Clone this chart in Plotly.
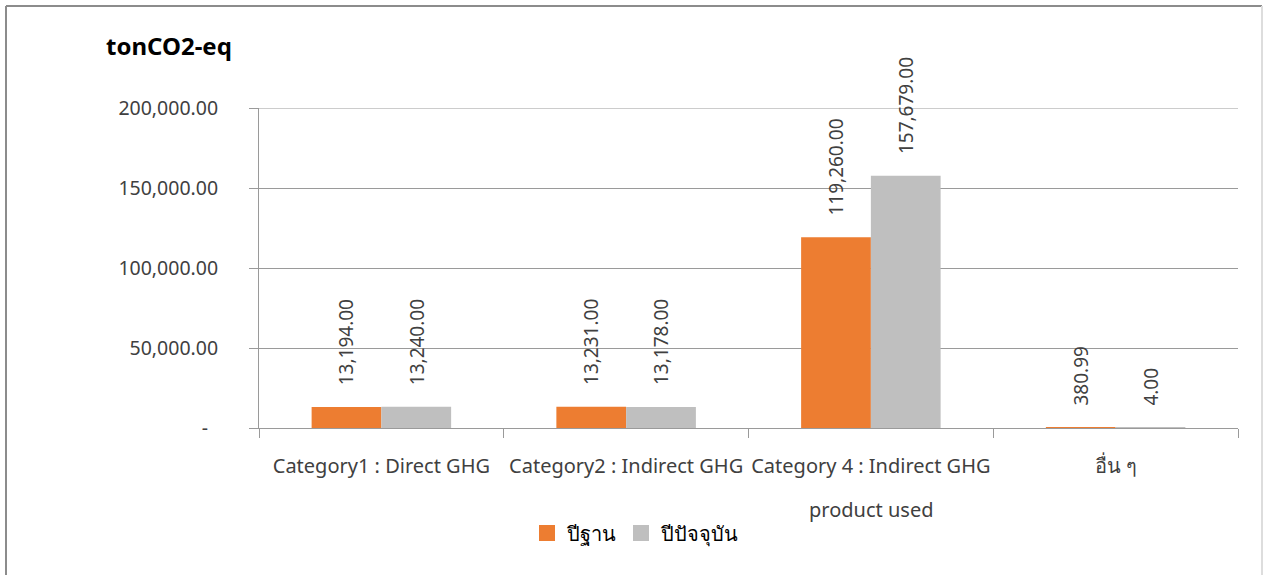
import plotly.graph_objects as go

categories = ["Category1 : Direct GHG", "Category2 : Indirect GHG",
              "Category 4 : Indirect GHG\nproduct used", "อื่น ๆ"]
series_names = ["ปีฐาน", "ปีปัจจุบัน"]
base_year = [13194.00, 13231.00, 119260.00, 380.99]
current_year = [13240.00, 13178.00, 157679.00, 4.00]
y_tickvals = [0, 50000, 100000, 150000, 200000]
y_ticktext = ["-\u00a0\u00a0", "50,000.00", "100,000.00", "150,000.00", "200,000.00"]
colors = ["#ED7D31", "#BFBFBF"]

FONT = "Noto Sans, Lato, sans-serif"
TXT = "#404040"
GRID = "#9a9a9a"

first_lines = [c.split("\n")[0] for c in categories]

fig = go.Figure()
for name, vals, col in zip(series_names, [base_year, current_year], colors):
    fig.add_trace(go.Bar(x=categories, y=vals, name=name, marker_color=col,
                         marker_line_width=0, showlegend=False))
    # legend proxy
    fig.add_trace(go.Scatter(x=[None], y=[None], mode="markers", name=name,
                             marker=dict(symbol="square", size=17, color=col)))

# rotated value labels
for vals, shift in [(base_year, -35), (current_year, 35)]:
    for c, v in zip(categories, vals):
        fig.add_annotation(x=c, y=v, xref="x", yref="y", text=f"{v:,.2f}",
                           textangle=-90, showarrow=False, xshift=shift,
                           yanchor="bottom", xanchor="center", yshift=20,
                           font=dict(family=FONT, size=19, color=TXT))

# second lines of wrapped category labels
for c in categories:
    parts = c.split("\n")
    if len(parts) > 1:
        fig.add_annotation(x=c, xref="x", y=(428 - 509) / 320, yref="paper",
                           text=parts[1], showarrow=False, yanchor="middle",
                           font=dict(family=FONT, size=20, color=TXT))

fig.add_annotation(text="<b>tonCO2-eq</b>", xref="paper", yref="paper",
                   x=(104 - 259) / 979, y=(428 - 45) / 320, xanchor="left", yanchor="middle",
                   showarrow=False, font=dict(family=FONT, size=24, color="#000000"))

# top gridline at axis maximum
fig.add_shape(type="line", xref="paper", yref="y", x0=0, x1=1,
              y0=y_tickvals[-1], y1=y_tickvals[-1], line=dict(color=GRID, width=1))

# outer border
fig.add_shape(type="line", xref="paper", yref="paper",
              x0=(6 - 259) / 979, x1=(1262 - 259) / 979, y0=(428 - 6) / 320, y1=(428 - 6) / 320,
              line=dict(color="#8c8c8c", width=2))
fig.add_shape(type="line", xref="paper", yref="paper",
              x0=(6 - 259) / 979, x1=(6 - 259) / 979, y0=(428 - 6) / 320, y1=(428 - 580) / 320,
              line=dict(color="#8c8c8c", width=2))
fig.add_shape(type="line", xref="paper", yref="paper",
              x0=(1262 - 259) / 979, x1=(1262 - 259) / 979, y0=(428 - 6) / 320, y1=(428 - 580) / 320,
              line=dict(color="#dddddd", width=2))

fig.update_layout(
    width=1263, height=575,
    margin=dict(l=259, r=25, t=108, b=147, autoexpand=False),
    paper_bgcolor="white", plot_bgcolor="white",
    barmode="group", bargap=0.43, bargroupgap=0,
    font=dict(family=FONT, size=19, color=TXT),
    showlegend=True,
    legend=dict(orientation="h", x=(527 - 259) / 979, y=(428 - 533) / 320,
                xanchor="left", yanchor="middle", font=dict(size=20, color="#000000"),
                itemwidth=30, tracegroupgap=0),
)
fig.update_xaxes(type="category", showline=True, linecolor=GRID, linewidth=1,
                 ticks="outside", tickson="boundaries", ticklen=9, tickcolor=GRID,
                 tickvals=categories, ticktext=first_lines, tickangle=0, automargin=False,
                 ticklabelstandoff=20, tickfont=dict(size=20, color=TXT),
                 showgrid=False)
fig.update_yaxes(range=[0, 200000], tickvals=y_tickvals, ticktext=y_ticktext,
                 showgrid=True, gridcolor=GRID, gridwidth=1, showline=True, automargin=False,
                 linecolor=GRID, ticks="outside", ticklen=9, tickcolor=GRID,
                 ticklabelstandoff=27, tickfont=dict(size=19.5, color=TXT),
                 zeroline=False)

fig.write_html("out.html", config={"displayModeBar": False},
               post_script="document.body.style.margin='0';")
